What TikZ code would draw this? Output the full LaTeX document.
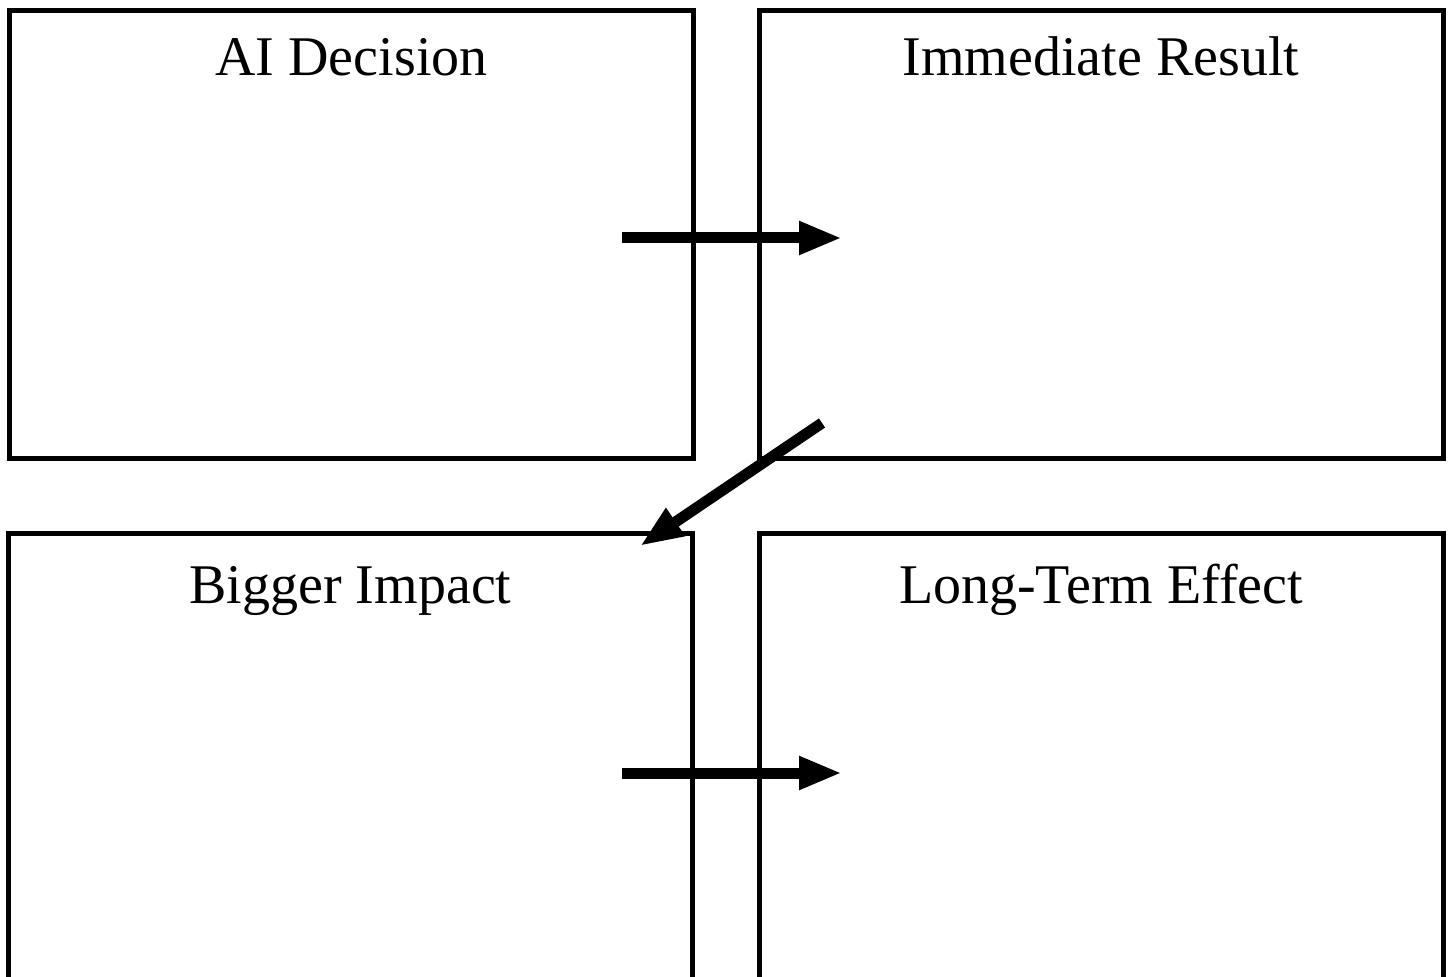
\documentclass[tikz,border=0pt]{standalone}
\usepackage{fontspec}
\setmainfont{Liberation Serif}
\usetikzlibrary{arrows.meta}

\begin{document}
\begin{tikzpicture}[x=0.5pt,y=-0.5pt,
    stagebox/.style={rectangle,draw,line width=2.5pt,
      minimum width=342pt,minimum height=224pt,inner sep=0pt},
    stagetitle/.style={font=\fontsize{28pt}{33pt}\selectfont,anchor=base,inner sep=0pt},
    flow/.style={line width=5.5pt,-{Triangle[length=21.5pt,width=15.5pt]}}]
      \useasboundingbox (0,0) rectangle (1450,977);
      \clip (0,0) rectangle (1450,977);
      % the four stages
      \node[stagebox] (decision) at (351.5,235) {};
      \node[stagebox] (result) at (1101,235) {};
      \node[stagebox] (impact) at (350.5,758) {};
      \node[stagebox] (effect) at (1101,758) {};
      \node[stagetitle] (tdecision) at ([yshift=-33.5pt]decision.north) {AI Decision};
      \node[stagetitle] (tresult) at ([yshift=-33.5pt]result.north) {Immediate Result};
      \node[stagetitle] (timpact) at ([yshift=-36pt]impact.north) {Bigger Impact};
      \node[stagetitle] (teffect) at ([yshift=-36pt]effect.north) {Long-Term Effect};
      % arrows
      \coordinate (d1) at (622,238);
      \coordinate (r1) at (842,238);
      \coordinate (r2) at (822,423);
      \coordinate (i1) at (640,546);
      \coordinate (i2) at (622,773);
      \coordinate (e1) at (842,773);
      \draw[flow] (d1) -- (r1);
      \draw[flow] (r2) -- (i1);
      \draw[flow] (i2) -- (e1);
    \end{tikzpicture}
\end{document}
